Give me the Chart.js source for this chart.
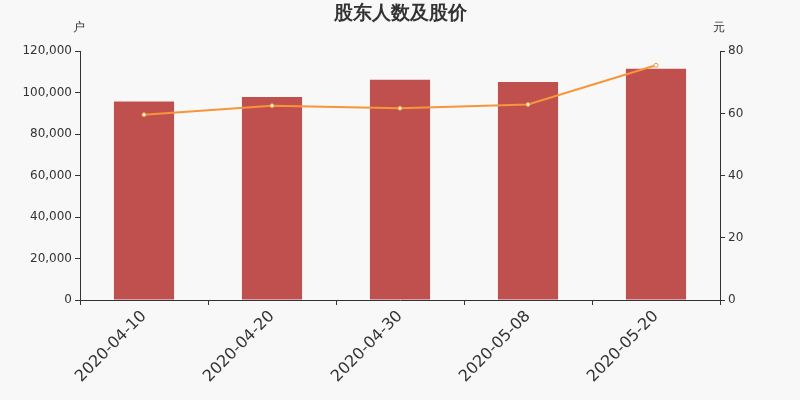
<!DOCTYPE html>
<html><head><meta charset="utf-8">
<script src="https://cdn.jsdelivr.net/npm/chart.js@4"></script>
<style>html,body{margin:0;padding:0;background:#f8f8f8;}#wrap{width:800px;height:400px;}</style>
</head><body><div id="wrap"><canvas id="c"></canvas></div>
<script>
const categories = ['2020-04-10','2020-04-20','2020-04-30','2020-05-08','2020-05-20'];
const holders = [95800, 97900, 106300, 105200, 111600];
const prices = [59.6, 62.5, 61.7, 62.9, 75.5];
const leftTicks = [0,20000,40000,60000,80000,100000,120000];
const rightTicks = [0,20,40,60,80];
const FONT = '"DejaVu Sans", sans-serif';

const unitPlugin = {
  id:'units',
  afterDraw(chart){
    const ctx = chart.ctx; ctx.save();
    ctx.fillStyle = '#333'; ctx.font = '12px ' + FONT; ctx.textBaseline='middle'; ctx.textAlign='center';
    ctx.fillText('户', 79, 28);
    ctx.fillText('元', 719, 28);
    ctx.restore();
  }
};
const bgPlugin = {
  id:'bg',
  beforeDraw(chart){const c=chart.ctx;c.save();c.fillStyle='#f8f8f8';c.fillRect(0,0,chart.width,chart.height);c.restore();}
};

new Chart(document.getElementById('c'), {
  data:{
    labels: categories,
    datasets:[
      {type:'line', label:'股价', data:prices, yAxisID:'y1', borderColor:'#f7953b', borderWidth:2,
       pointRadius:2, pointBackgroundColor:'#ffffff', pointBorderColor:'#f7953b', pointBorderWidth:1, tension:0, order:0},
      {type:'bar', label:'股东人数', data:holders, yAxisID:'y', backgroundColor:'#c0504d',
       barPercentage:0.47, categoryPercentage:1, order:1}
    ]
  },
  options:{
    responsive:true, maintainAspectRatio:false, animation:false,
    layout:{padding:{top:0,left:0,right:0,bottom:0}},
    plugins:{
      legend:{display:false}, tooltip:{enabled:false},
      title:{display:true, text:'股东人数及股价', color:'#333', font:{family:FONT, size:19, weight:'bold'}, padding:{top:3,bottom:25.5}}
    },
    scales:{
      x:{
        offset:true,
        grid:{display:true, drawOnChartArea:false, offset:true, color:'#333', tickLength:5, tickColor:'#333'},
        border:{color:'#333', width:1},
        ticks:{color:'#333', font:{family:FONT, size:16}, maxRotation:45, minRotation:45, padding:2},
        afterFit(s){ s.height = 100; }
      },
      y:{
        position:'left', min:0, max:120000,
        afterBuildTicks(s){ s.ticks = leftTicks.map(v=>({value:v})); },
        grid:{display:true, drawOnChartArea:false, color:'#333', tickLength:5},
        border:{color:'#333', width:1},
        ticks:{color:'#333', font:{family:FONT, size:12}, padding:3, callback:v=>v.toLocaleString('en-US')},
        afterFit(s){ s.width = 80; }
      },
      y1:{
        position:'right', min:0, max:80,
        afterBuildTicks(s){ s.ticks = rightTicks.map(v=>({value:v})); },
        grid:{display:true, drawOnChartArea:false, color:'#333', tickLength:5},
        border:{color:'#333', width:1},
        ticks:{color:'#333', font:{family:FONT, size:12}, padding:3},
        afterFit(s){ s.width = 80; }
      }
    }
  },
  plugins:[bgPlugin, unitPlugin]
});
</script>
</body></html>
